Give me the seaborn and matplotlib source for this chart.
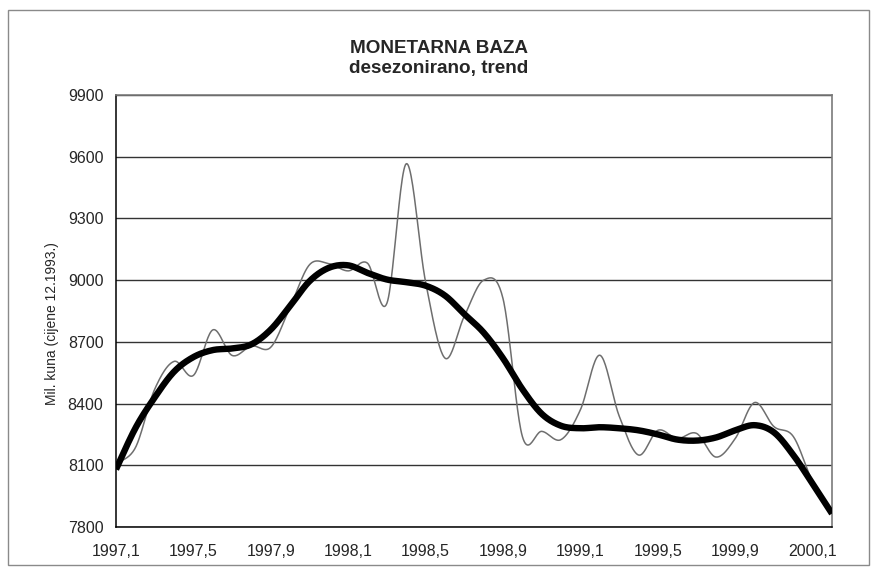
import numpy as np
import pandas as pd
import seaborn as sns
import matplotlib
matplotlib.use("Agg")
import matplotlib.pyplot as plt
from matplotlib.patches import Rectangle

# ---- data ----
periods = ["1997,1", "1997,2", "1997,3", "1997,4", "1997,5", "1997,6", "1997,7", "1997,8",
           "1997,9", "1997,10", "1997,11", "1997,12",
           "1998,1", "1998,2", "1998,3", "1998,4", "1998,5", "1998,6", "1998,7", "1998,8",
           "1998,9", "1998,10", "1998,11", "1998,12",
           "1999,1", "1999,2", "1999,3", "1999,4", "1999,5", "1999,6", "1999,7", "1999,8",
           "1999,9", "1999,10", "1999,11", "1999,12",
           "2000,1", "2000,2"]
desezonirano = [8110, 8185, 8470, 8605, 8537, 8758, 8634, 8680, 8674, 8870, 9075, 9080,
                9045, 9082, 8888, 9566, 8990, 8621, 8825, 9000, 8910, 8240, 8265, 8225,
                8370, 8635, 8340, 8150, 8270, 8230, 8255, 8140, 8230, 8405, 8288, 8240,
                8020, 7870]
trend = [8080, 8280, 8430, 8555, 8626, 8660, 8668, 8688, 8760, 8875, 8995, 9060,
         9072, 9035, 9003, 8990, 8973, 8925, 8835, 8745, 8620, 8470, 8350, 8292,
         8280, 8285, 8280, 8270, 8250, 8225, 8220, 8235, 8270, 8295, 8260, 8150,
         8010, 7865]
y_ticks = [7800, 8100, 8400, 8700, 9000, 9300, 9600, 9900]
title = "MONETARNA BAZA\ndesezonirano, trend"
y_label = "Mil. kuna (cijene 12.1993.)"


def smooth(values, steps=24):
    """Excel-style smoothed line (Catmull-Rom / Bezier) through the monthly points."""
    p = np.asarray(values, dtype=float)
    n = len(p)
    xs, ys = [], []
    for i in range(n - 1):
        p0 = p[i - 1] if i > 0 else p[i]
        p1, p2 = p[i], p[i + 1]
        p3 = p[i + 2] if i + 2 < n else p[i + 1]
        x0 = i - 1 if i > 0 else i
        x3 = i + 2 if i + 2 < n else i + 1
        c1y = p1 + (p2 - p0) / 6.0
        c2y = p2 - (p3 - p1) / 6.0
        c1x = i + (i + 1 - x0) / 6.0
        c2x = i + 1 - (x3 - i) / 6.0
        t = np.linspace(0, 1, steps, endpoint=(i == n - 2))
        b0 = (1 - t) ** 3
        b1 = 3 * (1 - t) ** 2 * t
        b2 = 3 * (1 - t) * t ** 2
        b3 = t ** 3
        xs.append(b0 * i + b1 * c1x + b2 * c2x + b3 * (i + 1))
        ys.append(b0 * p1 + b1 * c1y + b2 * c2y + b3 * p2)
    return np.concatenate(xs), np.concatenate(ys)


sns.set_theme(style="white")
plt.rcParams["font.family"] = ["Liberation Sans", "DejaVu Sans"]

fig = plt.figure(figsize=(8.78, 5.71), dpi=100)
ax = fig.add_axes([116 / 878, 1 - 527 / 571, (832 - 116) / 878, (527 - 95) / 571])

idx = np.arange(len(periods))
sx, sy = smooth(desezonirano)
tx, ty = smooth(trend)
sns.lineplot(x=sx, y=sy, ax=ax, color="#6e6e6e", linewidth=1.1, sort=False, zorder=3)
sns.lineplot(x=tx, y=ty, ax=ax, color="black", linewidth=4.6, sort=False, zorder=4,
             solid_capstyle="butt")

ax.set_xlim(0, len(periods) - 1)
ax.set_ylim(y_ticks[0], y_ticks[-1])
ax.set_yticks(y_ticks)
ax.set_yticklabels([str(v) for v in y_ticks], fontsize=11.5)
ax.set_xticks(idx)
ax.set_xticklabels([p if i % 4 == 0 else "" for i, p in enumerate(periods)], fontsize=11.5)
ax.tick_params(axis="x", direction="inout", length=9, width=0.9, color="black", pad=8)
ax.tick_params(axis="y", direction="inout", length=8, width=0.9, color="black", pad=5)

ax.grid(axis="y", color="#333333", linewidth=1.0)
ax.grid(axis="x", visible=False)
for side in ["left", "bottom"]:
    ax.spines[side].set_color("black")
    ax.spines[side].set_linewidth(1.1)
for side in ["top", "right"]:
    ax.spines[side].set_color("#7a7a7a")
    ax.spines[side].set_linewidth(1.2)

ax.set_ylabel(y_label, fontsize=10)
ax.yaxis.set_label_coords(-0.08, 0.47)
ax.set_xlabel("")

fig.text(439 / 878, 1 - 58.5 / 571, title, ha="center", va="center", fontsize=13.6,
         fontweight="bold", linespacing=1.25)

fig.patches.append(Rectangle((8 / 878, 6 / 571), 861 / 878, 555 / 571, transform=fig.transFigure,
                             fill=False, edgecolor="#8a8a8a", linewidth=1.0))

fig.savefig("out.png", dpi=100, facecolor="white")
